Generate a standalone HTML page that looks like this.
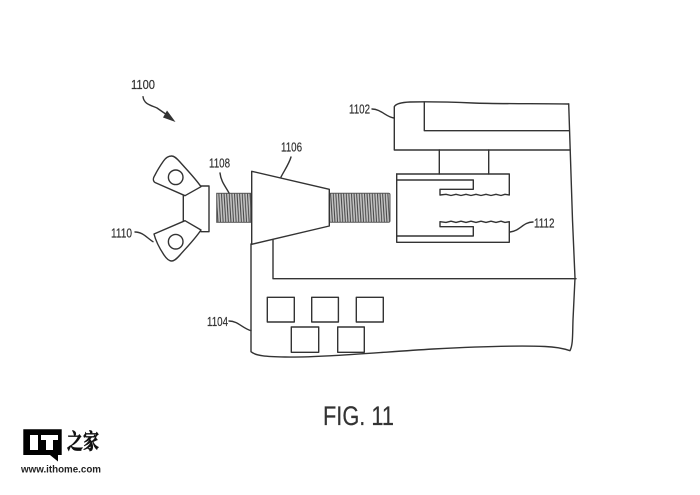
<!DOCTYPE html>
<html><head><meta charset="utf-8"><style>
html,body{margin:0;padding:0;background:#fff;width:700px;height:495px;overflow:hidden}
svg{display:block}
text{font-family:"Liberation Sans",sans-serif;fill:#333}
</style></head><body>
<svg width="700" height="495" viewBox="0 0 700 495" xmlns="http://www.w3.org/2000/svg">
<defs>
<pattern id="h" width="2.6" height="29" patternUnits="userSpaceOnUse" patternTransform="translate(0 193.3)">
<rect width="2.6" height="29" fill="#c4c4c4"/>
<line x1="0.4" y1="0" x2="2.2" y2="29" stroke="#444" stroke-width="1"/>
</pattern>
</defs>
<rect width="700" height="495" fill="#fff"/>
<!-- threads -->
<rect x="216.7" y="193.3" width="34" height="29" fill="url(#h)" stroke="#555" stroke-width="1"/>
<rect x="329.3" y="193.3" width="60.7" height="29" rx="1.5" fill="url(#h)" stroke="#555" stroke-width="1"/>
<g fill="none" stroke="#333" stroke-width="1.4" stroke-linejoin="round" stroke-linecap="round">
<!-- wing nut -->
<path d="M171.7 156C168 156 165.5 158 163.5 161C160 166 157 171 155 175C152.5 179 153 181 155 182.5L185 195.7L201 186.7C195 178 187 170 180 162C176 157.5 174 156 171.7 156Z"/>
<path d="M154 234L185 220.7L201 230C195 239 187 247 180 255C176 259.5 174 261 171.7 261C168.5 261 166 258 164 255C160 249 156 242 154 234Z"/>
<circle cx="175.7" cy="177.3" r="7.3"/>
<circle cx="175.7" cy="241.7" r="7.3"/>
<path d="M183.3 195.7V220.7M201 186L209 186V231.7H201"/>
<!-- cone -->
<path d="M251.7 171.3L329.3 189.3V226L251.7 244.3Z"/>
<!-- body 1104 -->
<path d="M251 244V351.7C256 356 266 356.7 285 357C320 357.5 370 353 433 349C480 346.5 520 345.5 545 346.5C558 347 565 349 570 350.7C573 345 572.5 335 573 320L575 278L572.5 220L568.7 104"/>
<path d="M273 240V278.7H576"/>
<!-- 1102 -->
<path d="M568.7 104C540 103.5 500 104 473 103C450 102 430 101.5 410 102C402 102.3 396 103.5 394.3 106.7V150H570"/>
<path d="M424.3 102V130.7H568.7"/>
<path d="M439.3 150V174M488.7 150V174"/>
<!-- clamp -->
<path d="M396.7 174H509.3V195L505 194.3 501 195.5 496 194.3 491 195.5 486 194.3 481 195.5 476 194.3 471 195.5 466 194.3 461 195.5 456 194.3 451 195.5 446 194.3 440 195V189.3H473.3V180H396.7"/>
<path d="M396.7 174V242.3H509.3V221.7L505 222.4 501 221.2 496 222.4 491 221.2 486 222.4 481 221.2 476 222.4 471 221.2 466 222.4 461 221.2 456 222.4 451 221.2 446 222.4 440 221.7V226.7H473.3V236H396.7"/>
<!-- squares -->
<rect x="267.3" y="297.3" width="27" height="24.7"/>
<rect x="311.7" y="297.3" width="26.7" height="24.7"/>
<rect x="356.3" y="297.3" width="27" height="24.7"/>
<rect x="291.3" y="327" width="27.4" height="25.3"/>
<rect x="337.7" y="327" width="26.6" height="25.3"/>
<!-- leaders -->
<path d="M143 96.7C144 104 150 105 157 108L170 117"/>
<path d="M220 173C221 182 226 187 229 193"/>
<path d="M291 157C289 164 284 171 281 177"/>
<path d="M135 232C143 232 147 238 153 241.7"/>
<path d="M372 109C381 109 386 117 394 118"/>
<path d="M533 222C523 222 520 231 510 232"/>
<path d="M229 321C238 321 242 328 251 330.7"/>
</g>
<path d="M175.5 122L163 117.5L167 110.5Z" fill="#333"/>
<!-- labels -->
<g font-size="12.5" stroke="#333" stroke-width="0.2">
<text x="131" y="89" textLength="24" lengthAdjust="spacingAndGlyphs">1100</text>
<text x="209" y="167.5" textLength="21" lengthAdjust="spacingAndGlyphs">1108</text>
<text x="281" y="151.5" textLength="21" lengthAdjust="spacingAndGlyphs">1106</text>
<text x="111" y="237.5" textLength="21" lengthAdjust="spacingAndGlyphs">1110</text>
<text x="349" y="113.5" textLength="21" lengthAdjust="spacingAndGlyphs">1102</text>
<text x="534" y="227.5" textLength="20.5" lengthAdjust="spacingAndGlyphs">1112</text>
<text x="207" y="326" textLength="21" lengthAdjust="spacingAndGlyphs">1104</text>
</g>
<text x="323" y="425" font-size="27" textLength="71" lengthAdjust="spacingAndGlyphs" stroke="#333" stroke-width="0.2">FIG. 11</text>
<!-- logo -->
<path d="M23.3 429.3H61.7V455H58V461.5L50 455H23.3Z" fill="#000"/>
<rect x="30" y="435" width="8" height="15" fill="#fff"/>
<rect x="41" y="435" width="17" height="5" fill="#fff"/>
<rect x="46" y="435" width="7" height="15" fill="#fff"/>
<text transform="translate(67 449) scale(1 1.35)" font-size="16" font-weight="700" stroke="#111" stroke-width="0.5" style='font-family:"Noto Serif CJK SC",serif;fill:#111'>之家</text>
<text x="21" y="472.5" font-size="10.5" font-weight="700" textLength="80" lengthAdjust="spacingAndGlyphs" style="fill:#222">www.ithome.com</text>
</svg>
</body></html>
